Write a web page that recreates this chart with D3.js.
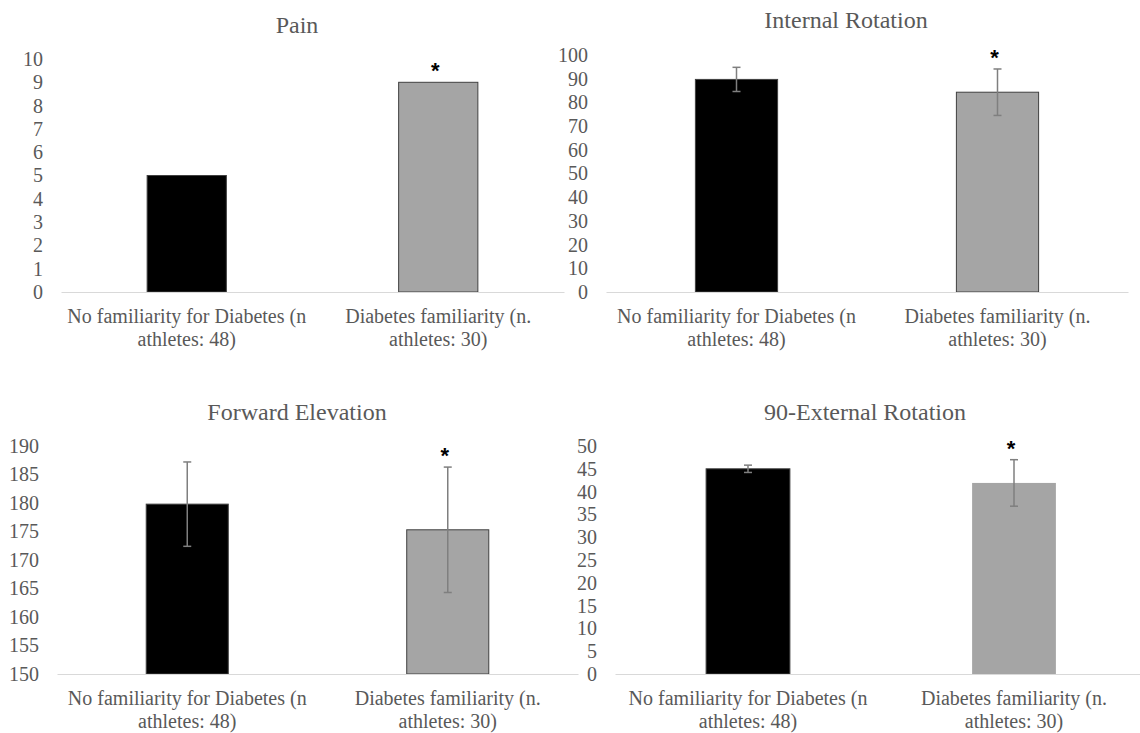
<!DOCTYPE html>
<html>
<head>
<meta charset="utf-8">
<script src="https://cdn.jsdelivr.net/npm/d3@7"></script>
<style>
  body { margin: 0; background: #fff; }
  svg { display: block; }
  svg text { font-family: "Liberation Serif", "Times New Roman", Times, "DejaVu Serif", "Noto Serif", serif; }
</style>
</head>
<body>
<div class="charts"></div>
<script>

// data
const categories = [
    "No familiarity for Diabetes (n athletes: 48)",
    "Diabetes familiarity (n. athletes: 30)"
];

const titles = ["Pain", "Internal Rotation", "Forward Elevation", "90-External Rotation"];

const painValues = [5, 9];
const painErrors = [0, 0];

const internalValues = [89.7, 84.3];
const internalErrors = [5.1, 9.8];

const forwardValues = [179.8, 175.3];
const forwardErrors = [7.4, 11.0];

const externalValues = [45.0, 41.9];
const externalErrors = [0.8, 5.1];

const significant = [false, true];

const painTicks = d3.range(0, 11, 1);
const internalTicks = d3.range(0, 101, 10);
const forwardTicks = d3.range(150, 191, 5);
const externalTicks = d3.range(0, 51, 5);

// layout for each panel
const panels = [
    { title: titles[0], values: painValues, errors: painErrors, ticks: painTicks,
      domain: [0, 10], x0: 61, x1: 564, yTop: 59, yBase: 292, titleX: 297, titleY: 25, outline: true },
    { title: titles[1], values: internalValues, errors: internalErrors, ticks: internalTicks,
      domain: [0, 100], x0: 606, x1: 1128, yTop: 55, yBase: 292, titleX: 846, titleY: 20, outline: true },
    { title: titles[2], values: forwardValues, errors: forwardErrors, ticks: forwardTicks,
      domain: [150, 190], x0: 57, x1: 578, yTop: 446, yBase: 674, titleX: 297, titleY: 412, outline: true },
    { title: titles[3], values: externalValues, errors: externalErrors, ticks: externalTicks,
      domain: [0, 50], x0: 615, x1: 1147, yTop: 446, yBase: 674, titleX: 865, titleY: 412, outline: false }
];

const fills = ["#000000", "#a5a5a5"];
const textColor = "#595959";
const serif = "'Liberation Serif', 'Times New Roman', Times, 'DejaVu Serif', 'Noto Serif', serif";

const svg = d3.select(".charts")
    .append("svg")
    .attr("width", 1140)
    .attr("height", 733);

// split a category into the two lines Excel shows
function wrapLines(label){
    const i = label.indexOf("athletes");
    return [label.slice(0, i).trim(), label.slice(i)];
}

panels.forEach(p => {

    const g = svg.append("g");

    const x = d3.scaleBand()
        .domain(categories)
        .range([p.x0, p.x1])
        .paddingInner(0.685)
        .paddingOuter(0.3425);

    const y = d3.scaleLinear()
        .domain(p.domain)
        .range([p.yBase, p.yTop]);

    // title
    g.append("text")
        .attr("x", p.titleX)
        .attr("y", p.titleY)
        .attr("text-anchor", "middle")
        .attr("dominant-baseline", "central")
        .attr("fill", textColor)
        .style("font-family", serif)
        .style("font-size", "24px")
        .text(p.title);

    // y axis (labels only)
    const yAxis = g.append("g")
        .attr("transform", `translate(${p.x0},0)`)
        .call(d3.axisLeft(y).tickValues(p.ticks).tickSize(0).tickPadding(18));
    yAxis.attr("font-family", null);
    yAxis.select(".domain").remove();
    yAxis.selectAll("text")
        .attr("fill", textColor)
        .style("font-size", "20px")
        .style("font-family", serif);

    // bars
    g.selectAll("rect.bar")
        .data(p.values)
        .enter()
        .append("rect")
        .attr("class", "bar")
        .attr("x", (d, i) => x(categories[i]))
        .attr("y", d => y(d))
        .attr("width", x.bandwidth())
        .attr("height", d => y(p.domain[0]) - y(d))
        .attr("fill", (d, i) => fills[i])
        .attr("stroke", (d, i) => (p.outline || i === 0) ? "#404040" : "none")
        .attr("stroke-width", 1);

    // x axis
    const xAxis = g.append("g")
        .attr("transform", `translate(0,${p.yBase})`)
        .call(d3.axisBottom(x).tickSize(0).tickPadding(0));
    xAxis.attr("font-family", null);
    xAxis.select(".domain")
        .attr("stroke", "#d9d9d9")
        .attr("stroke-width", 1.2);
    xAxis.selectAll(".tick text")
        .attr("fill", textColor)
        .style("font-size", "20px")
        .style("font-family", serif)
        .attr("y", 0)
        .attr("dy", null)
        .each(function(d){
            const t = d3.select(this);
            t.text(null);
            wrapLines(d).forEach((line, k) => {
                t.append("tspan")
                    .attr("x", 0)
                    .attr("y", 31 + k * 23)
                    .text(line);
            });
        });

    // error bars
    const err = g.selectAll("g.err")
        .data(p.values.map((v, i) => ({ v, e: p.errors[i], c: categories[i] })).filter(d => d.e > 0))
        .enter()
        .append("g")
        .attr("class", "err")
        .attr("stroke", "#7f7f7f")
        .attr("stroke-width", 1.5);

    err.append("line")
        .attr("x1", d => x(d.c) + x.bandwidth() / 2)
        .attr("x2", d => x(d.c) + x.bandwidth() / 2)
        .attr("y1", d => y(d.v + d.e))
        .attr("y2", d => y(d.v - d.e));

    [1, -1].forEach(s => {
        err.append("line")
            .attr("x1", d => x(d.c) + x.bandwidth() / 2 - 4)
            .attr("x2", d => x(d.c) + x.bandwidth() / 2 + 4)
            .attr("y1", d => y(d.v + s * d.e))
            .attr("y2", d => y(d.v + s * d.e));
    });

    // significance star
    g.selectAll("text.star")
        .data(p.values.map((v, i) => ({ v, e: p.errors[i], c: categories[i], s: significant[i] })).filter(d => d.s))
        .enter()
        .append("text")
        .attr("class", "star")
        .attr("x", d => x(d.c) + x.bandwidth() / 2 - 3)
        .attr("y", d => y(d.v + d.e) - 4)
        .attr("text-anchor", "middle")
        .style("font-family", "'Liberation Sans', Arial, sans-serif")
        .style("font-weight", "bold")
        .style("font-size", "22px")
        .attr("fill", "#000")
        .text("*");
});

</script>
</body>
</html>
